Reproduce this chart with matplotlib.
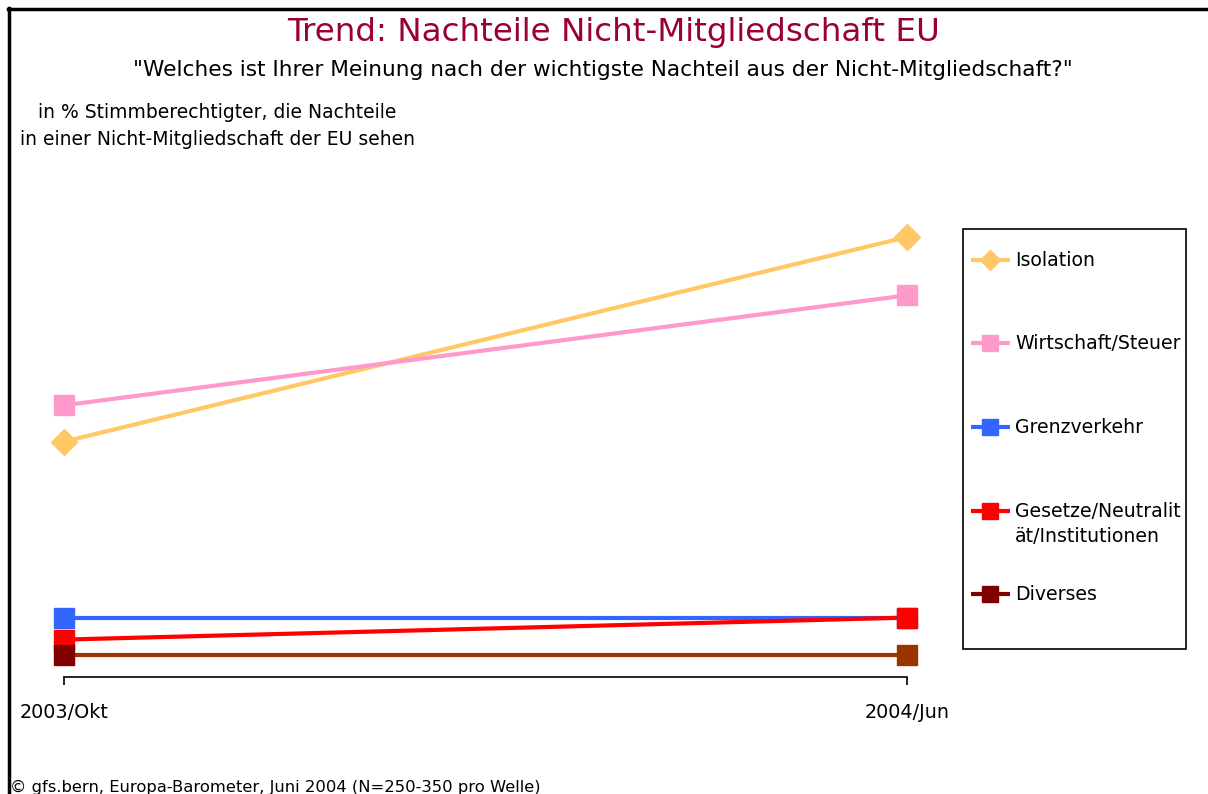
import matplotlib
matplotlib.use("Agg")
import matplotlib.pyplot as plt
from matplotlib.lines import Line2D
from matplotlib.patches import Rectangle

# data (in % of voters)
waves = ["2003/Okt", "2004/Jun"]
series = ["Isolation", "Wirtschaft/Steuer", "Grenzverkehr",
          "Gesetze/Neutralit\nät/Institutionen", "Diverses"]
isolation = [21.4, 40.0]
wirtschaft = [24.7, 34.7]
grenzverkehr = [5.4, 5.4]
gesetze = [3.4, 5.4]
diverses = [2.0, 2.0]

values = [isolation, wirtschaft, grenzverkehr, gesetze, diverses]
line_colors = ["#FFC766", "#FF99CC", "#3366FF", "#FF0000", "#993300"]
marker_colors = [["#FFC766"] * 2, ["#FF99CC"] * 2, ["#3366FF"] * 2,
                 ["#FF0000"] * 2, ["#800000", "#993300"]]
legend_colors = ["#FFC766", "#FF99CC", "#3366FF", "#FF0000", "#800000"]
markers = ["D", "s", "s", "s", "s"]

plt.rcParams['font.family'] = ['DejaVu Sans']

W, H = 1208, 794
fig = plt.figure(figsize=(W / 100, H / 100), dpi=100)

def fx(px):
    return px / W

def fy(py):
    return 1 - py / H

# axes: x=0 at px 64, x=1 at px 907, y=0 at px 677
ax = fig.add_axes([fx(64), fy(677), fx(907 - 64), (677 - 182) / H])
ax.set_xlim(0, 1)
ax.set_ylim(0, 45)

x = [0, 1]
for vals, lc, mcs, m in zip(values, line_colors, marker_colors, markers):
    ax.plot(x, vals, color=lc, lw=3, solid_capstyle='butt', clip_on=False, zorder=2)
    ms = 13 if m == "D" else 14
    for xi, vi, mc in zip(x, vals, mcs):
        ax.plot([xi], [vi], marker=m, ms=ms, color=mc, mec=mc, ls='none',
                clip_on=False, zorder=3)

for s in ["left", "right", "top"]:
    ax.spines[s].set_visible(False)
ax.spines["bottom"].set_linewidth(1.2)
ax.set_yticks([])
ax.set_xticks(x)
ax.set_xticklabels(waves, fontsize=13.8)
ax.tick_params(axis='x', direction='out', length=6, width=1.2, pad=13)
ax.patch.set_alpha(0)

# titles
fig.text(fx(614), fy(33), "Trend: Nachteile Nicht-Mitgliedschaft EU",
         ha='center', va='center', fontsize=23.4, color="#990033")
fig.text(fx(603), fy(70),
         "\"Welches ist Ihrer Meinung nach der wichtigste Nachteil aus der Nicht-Mitgliedschaft?\"",
         ha='center', va='center', fontsize=15.6, color="black")
fig.text(fx(217), fy(126),
         "in % Stimmberechtigter, die Nachteile\nin einer Nicht-Mitgliedschaft der EU sehen",
         ha='center', va='center', fontsize=13.5, linespacing=1.55)
fig.text(fx(10), fy(787), "\u00a9 gfs.bern, Europa-Barometer, Juni 2004 (N=250-350 pro Welle)",
         ha='left', va='center', fontsize=11.75)

# legend box with entries
fig.patches.append(Rectangle((fx(963), fy(649)), fx(1186 - 963), (649 - 229) / H,
                             transform=fig.transFigure, fill=False,
                             edgecolor="black", lw=1.2))
entry_y = [260, 343, 427, 511, 594]
for label, c, m, py in zip(series, legend_colors, markers, entry_y):
    fig.lines.append(Line2D([fx(971), fx(1010)], [fy(py), fy(py)],
                            transform=fig.transFigure, color=c, lw=3,
                            solid_capstyle='butt'))
    fig.lines.append(Line2D([fx(990)], [fy(py)], transform=fig.transFigure,
                            marker=m, ms=(10 if m == "D" else 11), color=c, mec=c))
    fig.text(fx(1015), fy(py - 9), label, ha='left', va='top',
             fontsize=13.6, linespacing=1.4)

# outer frame (top and left edges)
fig.lines.append(Line2D([fx(8), 1], [fy(9), fy(9)], transform=fig.transFigure,
                        color="black", lw=2.5))
fig.lines.append(Line2D([fx(9), fx(9)], [0, fy(8)], transform=fig.transFigure,
                        color="black", lw=2.5))

fig.savefig("out.png", dpi=100)
